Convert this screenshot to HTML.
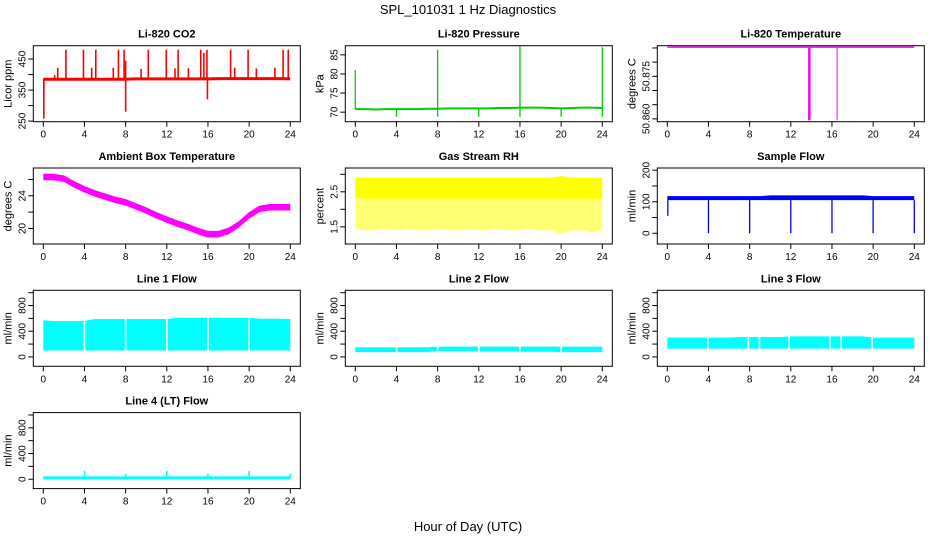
<!DOCTYPE html>
<html><head><meta charset="utf-8">
<style>
body{margin:0;background:#fff;}
svg{display:block;font-family:"Liberation Sans",Arial,sans-serif;}
</style></head>
<body>
<svg id="chart" width="936" height="540" viewBox="0 0 936 540" xmlns="http://www.w3.org/2000/svg">
<rect width="936" height="540" fill="#fff"/>
<text x="468" y="14" text-anchor="middle" font-size="13">SPL_101031  1 Hz Diagnostics</text>
<text x="468" y="531" text-anchor="middle" font-size="13">Hour of Day (UTC)</text>
</svg>
<script>
// ---- data ----
const hours = [0,1,2,3,4,5,6,7,8,9,10,11,12,13,14,15,16,17,18,19,20,21,22,23,24];
const xTicks = [0,4,8,12,16,20,24];

const co2Base = [385,385,385,385,385,385,385,385,385,386,386,386,386,386,386,386,386,387,387,387,387,387,387,387,386];
const co2SpikeHours = [0.05,2.2,3.9,5.1,7.3,7.85,10.2,11.95,13.1,15.3,15.9,18.2,19.9,23.3,23.8,1.1,1.4,4.7,6.8,8.0,9.5,12.8,14.1,15.6,18.6,20.7,22.5,8.0,15.95,0.05];
const co2SpikeValues = [352,480,480,480,480,480,480,480,480,480,480,480,480,480,480,398,422,422,422,445,418,420,420,470,422,420,422,280,320,258];

const presBase = [70.8,70.8,70.7,70.8,70.8,70.8,70.8,70.9,70.9,71.0,71.0,71.0,71.0,71.0,71.1,71.1,71.2,71.2,71.2,71.1,71.0,71.1,71.2,71.2,71.1];
const presSpikeHours = [0.0,8.0,16.0,24.0,4.0,8.0,12.0,16.0,20.0,24.0];
const presSpikeValues = [81.0,86.3,87.3,87.0,68.8,68.8,68.8,68.8,68.8,68.8];

const tempBase = 50.8853;
const tempDipHours = [13.8,16.5];
const tempDipValues = [50.8595,50.8595];

const ambCenter = [26.3,26.3,26.1,25.4,24.8,24.3,23.9,23.5,23.2,22.7,22.2,21.6,21.1,20.6,20.2,19.7,19.3,19.3,19.7,20.5,21.6,22.4,22.6,22.6,22.6];
const ambHalfWidth = 0.4;

const rhHigh = [2.9,2.9,2.9,2.9,2.9,2.9,2.9,2.9,2.9,2.9,2.9,2.9,2.9,2.9,2.9,2.9,2.9,2.9,2.9,2.9,2.95,2.9,2.9,2.9,2.9];
const rhDense = [2.35,2.3,2.3,2.3,2.3,2.3,2.3,2.3,2.3,2.3,2.3,2.3,2.3,2.3,2.3,2.3,2.3,2.3,2.3,2.3,2.3,2.3,2.3,2.3,2.3];
const rhLow = [1.45,1.4,1.4,1.45,1.4,1.45,1.4,1.4,1.45,1.4,1.4,1.45,1.4,1.4,1.45,1.4,1.4,1.45,1.4,1.4,1.3,1.4,1.4,1.35,1.4];

const flowLow = [105,105,105,105,105,105,105,105,105,105,105,105,105,105,105,105,105,105,105,105,105,105,105,105,105];
const flowHigh = [118,118,118,118,118,118,118,118,118,118,120,120,120,120,120,120,120,120,120,120,118,118,118,118,118];
const flowDipHours = [0.05,4,8,12,16,20,24];
const flowDipValues = [55,0,0,0,0,0,0];

const l1Low = [100,100,100,100,100,100,100,100,100,100,100,100,100,100,100,100,100,100,100,100,100,100,100,100,100];
const l1High = [570,560,560,560,560,590,590,590,590,590,590,590,590,610,610,610,610,610,610,610,610,595,595,595,590];
const l1Gaps = [4,8,12,16,20];
const l2Low = [75,75,75,75,75,75,75,75,90,90,90,90,85,85,85,85,80,80,80,80,75,75,75,75,75];
const l2High = [150,150,150,150,150,150,150,150,160,160,160,160,160,160,160,160,160,160,160,160,160,160,160,160,160];
const l2Gaps = [4,8,12,16,20];
const l3Low = [130,130,130,130,130,130,130,130,130,130,130,130,130,130,130,130,130,130,130,130,130,130,130,130,130];
const l3High = [300,300,300,300,300,300,300,310,310,310,310,310,320,320,320,320,320,320,320,320,300,300,300,300,300];
const l3Gaps = [3.93,7.88,8.95,11.84,15.8,16.9,19.9];
const l4Base = [20,20,20,20,20,20,20,20,20,20,20,20,20,20,20,20,20,20,20,20,20,20,20,20,20];
const l4SpikeHours = [4,8,12,16,20,24];
const l4SpikeValues = [130,85,130,85,130,85];

// ---- layout ----
const svg = document.getElementById('chart');
const NS = 'http://www.w3.org/2000/svg';
function mk(tag, attrs, parent){
  const e = document.createElementNS(NS, tag);
  for (const k in attrs) e.setAttribute(k, attrs[k]);
  (parent||svg).appendChild(e);
  return e;
}
function panel(col,row,title,ylab,ymin,ymax,yticks,ylabels,name){
  const L = 33.3 + 312*col, R = L + 267, T = 45.7 + 122.3*row, B = T + 76;
  const g = mk('g', {});
  
  
  const x = h => (L+10) + h*(R-L-20)/24;
  const y = v => B - (v-ymin)*(B-T)/(ymax-ymin);
  const clip = mk('clipPath', {id:'clip-'+name}, g);
  mk('rect', {x:L, y:T, width:R-L, height:B-T}, clip);
  const data = mk('g', {'clip-path':'url(#clip-'+name+')'}, g);
  
  
  const t = mk('text', {x:(L+R)/2, y:T-8, 'text-anchor':'middle', 'font-size':11, 'font-weight':'bold'}, g);
  t.textContent = title;
  
  
  const yl = mk('text', {x:0, y:0, 'text-anchor':'middle', 'font-size':11, transform:`translate(${L-22},${(T+B)/2}) rotate(-90)`}, g);
  yl.textContent = ylab;
  
  
  const fr = mk('rect', {x:L, y:T, width:R-L, height:B-T, fill:'none', stroke:'#000', 'stroke-width':1}, g);
  
  
  xTicks.forEach(h=>{
    const tk = mk('line', {x1:x(h), x2:x(h), y1:B, y2:B+5, stroke:'#000'}, g);
    
    
    const lb = mk('text', {x:x(h), y:B+16, 'text-anchor':'middle', 'font-size':10}, g);
    lb.textContent = h;
    
    
  });
  yticks.forEach((v,i)=>{
    const tk = mk('line', {x1:L-5, x2:L, y1:y(v), y2:y(v), stroke:'#000'}, g);
    
    
    if (ylabels[i]) {
      const lb = mk('text', {x:0, y:0, 'text-anchor':'middle', 'font-size':10, transform:`translate(${L-8},${y(v)}) rotate(-90)`}, g);
      lb.textContent = ylabels[i];
      
      
    }
  });
  return {x,y,g:data,T,B};
}
function band(p, lo, hi, color, op, nm){
  let d = '';
  hours.forEach((h,i)=>{ d += (i?'L':'M') + p.x(h) + ',' + p.y(hi[i]); });
  for (let i=hours.length-1;i>=0;i--) d += 'L' + p.x(hours[i]) + ',' + p.y(lo[i]);
  const e = mk('path', {d:d+'Z', fill:color, 'fill-opacity':op}, p.g);
  
  
}
function vlines(p, hs, from, vals, color, w, nm){
  hs.forEach((h,i)=>{
    const f = typeof from === 'number' ? from : from[Math.min(24,Math.round(h))];
    const e = mk('line', {x1:p.x(h), x2:p.x(h), y1:p.y(f), y2:p.y(vals[i]), stroke:color, 'stroke-width':w}, p.g);
    
    
  });
}
function gaps(p, hs, nm){
  hs.forEach(h=>{
    const e = mk('line', {x1:p.x(h), x2:p.x(h), y1:p.T, y2:p.B, stroke:'#fff', 'stroke-width':1.6}, p.g);
    
    
  });
}
function baseLine(p, arr, off, color, w, nm){
  let d='';
  hours.forEach((h,i)=>{ d += (i?'L':'M') + p.x(h) + ',' + p.y(arr[i]+off); });
  const e = mk('path', {d, fill:'none', stroke:color, 'stroke-width':w}, p.g);
  
  
}

// CO2
let p = panel(0,0,'Li-820 CO2','Licor ppm',248,493,[250,300,350,400,450],['250','','350','','450'],'co2');
baseLine(p, co2Base, 0, '#f00', 3, 'co2-line');
vlines(p, co2SpikeHours, co2Base, co2SpikeValues, '#f00', 1.6, 'co2-spike');

// Pressure
p = panel(1,0,'Li-820 Pressure','kPa',67.5,87.4,[70,75,80,85],['70','75','80','85'],'pressure');
baseLine(p, presBase, 0, '#0c0', 2, 'pressure-line');
vlines(p, presSpikeHours, presBase, presSpikeValues, '#0c0', 1.3, 'pressure-spike');

// Li-820 temperature
p = panel(2,0,'Li-820 Temperature','degrees C',50.859,50.8858,[50.860,50.865,50.870,50.875,50.880,50.885],['50.860','','','50.875','',''],'licor-temp');
baseLine(p, hours.map(()=>tempBase), 0, '#f0f', 1.5, 'licor-temp-line');
vlines(p, [tempDipHours[0]], tempBase, [tempDipValues[0]], '#f0f', 2.5, 'licor-temp-dip');
vlines(p, [tempDipHours[1]], tempBase, [tempDipValues[1]], '#f0f', 1, 'licor-temp-dip');

// Ambient
p = panel(0,1,'Ambient Box Temperature','degrees C',18.1,27.4,[20,22,24,26],['20','','24',''],'ambient');
band(p, ambCenter.map(v=>v-ambHalfWidth), ambCenter.map(v=>v+ambHalfWidth), '#f0f', 1, 'ambient-band');

// RH
p = panel(1,1,'Gas Stream RH','percent',1.01,3.18,[1.5,2.0,2.5,3.0],['1.5','','2.5',''],'rh');
band(p, rhLow, rhDense, '#ff0', 0.55, 'rh-sparse-band');
band(p, rhDense, rhHigh, '#ff0', 1, 'rh-dense-band');

// Sample flow
p = panel(2,1,'Sample Flow','ml/min',-34,207,[0,50,100,150,200],['0','','100','','200'],'sample-flow');
band(p, flowLow, flowHigh, '#00f', 1, 'sample-flow-band');
vlines(p, flowDipHours, flowLow, flowDipValues, '#00f', 1.3, 'sample-flow-dip');

const lt = [0,200,400,600,800,1000], ll = ['0','','400','','800',''];
// Line 1
p = panel(0,2,'Line 1 Flow','ml/min',-146,1037,lt,ll,'line1-flow');
band(p, l1Low, l1High, '#0ff', 1, 'line1-band');
gaps(p, l1Gaps, 'line1-gap');
// Line 2
p = panel(1,2,'Line 2 Flow','ml/min',-146,1037,lt,ll,'line2-flow');
band(p, l2Low, l2High, '#0ff', 1, 'line2-band');
gaps(p, l2Gaps, 'line2-gap');
// Line 3
p = panel(2,2,'Line 3 Flow','ml/min',-146,1037,lt,ll,'line3-flow');
band(p, l3Low, l3High, '#0ff', 1, 'line3-band');
gaps(p, l3Gaps, 'line3-gap');
// Line 4
p = panel(0,3,'Line 4 (LT) Flow','ml/min',-146,1037,lt,ll,'line4-flow');
baseLine(p, l4Base, 0, '#0ff', 3, 'line4-line');
vlines(p, l4SpikeHours, l4Base, l4SpikeValues, '#0ff', 1.6, 'line4-spike');
</script>
</body></html>
